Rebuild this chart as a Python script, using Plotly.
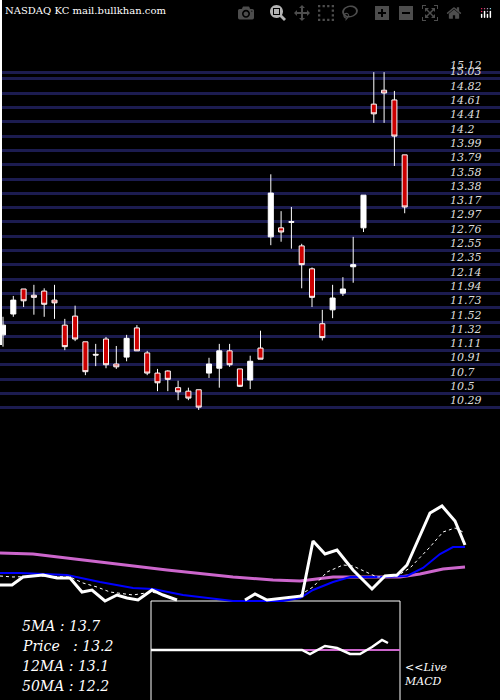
import plotly.graph_objects as go

_BG = '#000000'
_FONT = 'DejaVu Serif, Liberation Serif, serif'

# daily candles
opens = [11.34, 11.64, 12.00, 11.91, 11.97, 11.84, 11.48, 11.61, 11.24, 11.06,
         11.28, 10.92, 11.02, 11.44, 11.08, 10.79, 10.82, 10.58, 10.53, 10.55,
         10.79, 10.86, 11.11, 10.85, 10.69, 11.15, 12.75, 12.88, 12.97, 12.62,
         12.29, 11.50, 11.70, 11.94, 12.32, 12.88, 14.66, 14.86, 14.72, 13.93]
highs = [11.60, 11.90, 12.00, 12.06, 12.01, 12.06, 11.57, 11.76, 11.24, 11.21,
         11.31, 11.18, 11.34, 11.48, 11.11, 10.85, 10.83, 10.68, 10.58, 10.55,
         11.01, 11.21, 11.21, 10.85, 11.04, 11.40, 13.65, 13.12, 13.18, 12.65,
         12.31, 11.70, 12.06, 12.17, 12.75, 13.35, 15.12, 15.12, 14.85, 13.93]
lows = [11.17, 11.60, 11.74, 11.63, 11.60, 11.57, 11.12, 11.25, 10.76, 10.89,
        10.86, 10.85, 10.96, 11.11, 10.76, 10.53, 10.53, 10.40, 10.40, 10.26,
        10.72, 10.58, 10.88, 10.59, 10.56, 10.99, 12.63, 12.68, 12.58, 12.01,
        11.74, 11.26, 11.58, 11.90, 12.09, 12.82, 14.39, 14.39, 13.77, 13.09]
closes = [11.48, 11.84, 11.83, 11.88, 11.78, 11.80, 11.17, 11.28, 10.81, 11.05,
          10.91, 10.88, 11.29, 11.11, 10.79, 10.65, 10.70, 10.52, 10.43, 10.30,
          10.92, 11.11, 10.91, 10.60, 10.96, 10.99, 13.38, 12.82, 12.96, 12.35,
          11.88, 11.30, 11.87, 12.00, 12.35, 13.35, 14.52, 14.82, 14.20, 13.18]

price_levels = [15.12, 15.03, 14.82, 14.61, 14.41, 14.2, 13.99, 13.79, 13.58, 13.38,
                13.17, 12.97, 12.76, 12.55, 12.35, 12.14, 11.94, 11.73, 11.52,
                11.32, 11.11, 10.91, 10.7, 10.5, 10.29]

# lower panel lines (panel units, y grows downward)
price_x = [0, 12, 23, 43, 57, 70, 82, 92, 105, 117, 127, 138, 152, 163, 177, None,
           245, 255, 267, 287, 302, 313, 325, 337, 353, 372, 385, 397, 407, 430, 442, 455, 465]
price_y = [585, 585, 577, 575, 578, 578, 592, 590, 601, 595, 598, 600, 590, 595, 600, None,
           600, 594, 600, 598, 596, 541, 554, 550, 570, 589, 576, 575, 565, 513, 506, 521, 545]
ma5_x = [0, 13, 43, 70, 83, 97, 110, 133, 152, 173, None, 300, 313, 327, 343, 353, 367, 377, 397, 410, 430, 443, 455, 465]
ma5_y = [576, 577, 576, 577, 583, 587, 592, 595, 592, 598, None, 595, 587, 572, 565, 566, 572, 577, 576, 568, 547, 532, 528, 533]
ma12_x = [0, 20, 67, 100, 133, 153, 183, 217, 233, 283, 300, 313, 333, 350, 383, 407, 423, 440, 453, 465]
ma12_y = [573, 573, 575, 582, 588, 589, 595, 599, 601, 601, 598, 590, 582, 577, 577, 576, 568, 554, 547, 547]
ma50_x = [0, 33, 100, 167, 233, 273, 300, 317, 333, 367, 400, 420, 443, 465]
ma50_y = [553, 554, 562, 570, 577, 580, 581, 579, 577, 577, 577, 574, 569, 567]
macd_x = [151, 302, 310, 325, 337, 350, 360, 372, 382, 388]
macd_y = [650, 650, 654, 646, 648, 654, 654, 647, 640, 643]
signal_x = [302, 400]
signal_y = [650, 650]

ma_labels = ['5MA : 13.7', 'Price   : 13.2', '12MA : 13.1', '50MA : 12.2']

n = len(opens)
days = list(range(n))
px_per_day = 10.3
px_per_unit = 69.5


def px_to_price(y):
    return 14.82 - (y - 93) / px_per_unit


fig = go.Figure()
fig.add_trace(go.Candlestick(
    x=days, open=opens, high=highs, low=lows, close=closes,
    increasing=dict(fillcolor='#ffffff', line=dict(color='#ffffff', width=1)),
    decreasing=dict(fillcolor='#cc0000', line=dict(color='#ffffff', width=1)),
    whiskerwidth=0, showlegend=False, hoverinfo='skip'
))

for xs, ys, col, w, dash in [
    (ma50_x, ma50_y, '#cc66cc', 3, 'solid'),
    (ma12_x, ma12_y, '#0000ff', 2, 'solid'),
    (ma5_x, ma5_y, '#ffffff', 1, 'dot'),
    (price_x, price_y, '#ffffff', 3, 'solid'),
    (signal_x, signal_y, '#cc66cc', 2, 'solid'),
    (macd_x, macd_y, '#ffffff', 2.5, 'solid'),
]:
    fig.add_trace(go.Scatter(x=xs, y=ys, xaxis='x2', yaxis='y2', mode='lines',
                             line=dict(color=col, width=w, dash=dash),
                             showlegend=False, hoverinfo='skip', connectgaps=False))

annots = [dict(text='NASDAQ KC mail.bullkhan.com', x=3, y=10, xref='x2', yref='y2',
               xanchor='left', yanchor='middle', showarrow=False,
               font=dict(size=10, color='#ffffff', family=_FONT))]
for lv in price_levels:
    annots.append(dict(text=f'<i>{lv:g}</i>', x=448, y=lv + 0.1,
                       xref='x2', yref='y', xanchor='left', yanchor='middle', showarrow=False,
                       font=dict(size=11, color='#dddddd', family=_FONT)))
for i, t in enumerate(ma_labels):
    annots.append(dict(text=f'<i>{t}</i>', x=20, y=626 + i * 20, xref='x2', yref='y2',
                       xanchor='left', yanchor='middle', showarrow=False,
                       font=dict(size=14, color='#ffffff', family=_FONT)))
annots.append(dict(text='<i>&lt;&lt;Live<br>MACD</i>', x=402, y=674, xref='x2', yref='y2',
                   xanchor='left', yanchor='middle', showarrow=False, align='left',
                   font=dict(size=11, color='#ffffff', family=_FONT)))

shapes = [dict(type='rect', xref='x2', yref='y2', x0=151, x1=400, y0=601, y1=702,
               line=dict(color='#ffffff', width=1), fillcolor='rgba(0,0,0,0)', layer='below'),
          dict(type='line', xref='x2', yref='y2', x0=1, x1=1, y0=0, y1=345,
               line=dict(color='#ffffff', width=2))]

fig.update_layout(
    width=500, height=700,
    paper_bgcolor=_BG, plot_bgcolor=_BG,
    margin=dict(l=0, r=0, t=0, b=0),
    xaxis=dict(range=[-3 / px_per_day, 497 / px_per_day], visible=False,
               rangeslider=dict(visible=False), fixedrange=True),
    yaxis=dict(range=[px_to_price(700), px_to_price(0)], tickvals=price_levels,
               showticklabels=False, gridcolor='#1c1c50', gridwidth=3, zeroline=False,
               showline=False),
    xaxis2=dict(range=[0, 500], overlaying='x', visible=False),
    yaxis2=dict(range=[700, 0], overlaying='y', visible=False),
    annotations=annots, shapes=shapes, showlegend=False,
)

fig.write_html('out.html', post_script="document.body.style.margin='0';document.body.style.background='#000';")
